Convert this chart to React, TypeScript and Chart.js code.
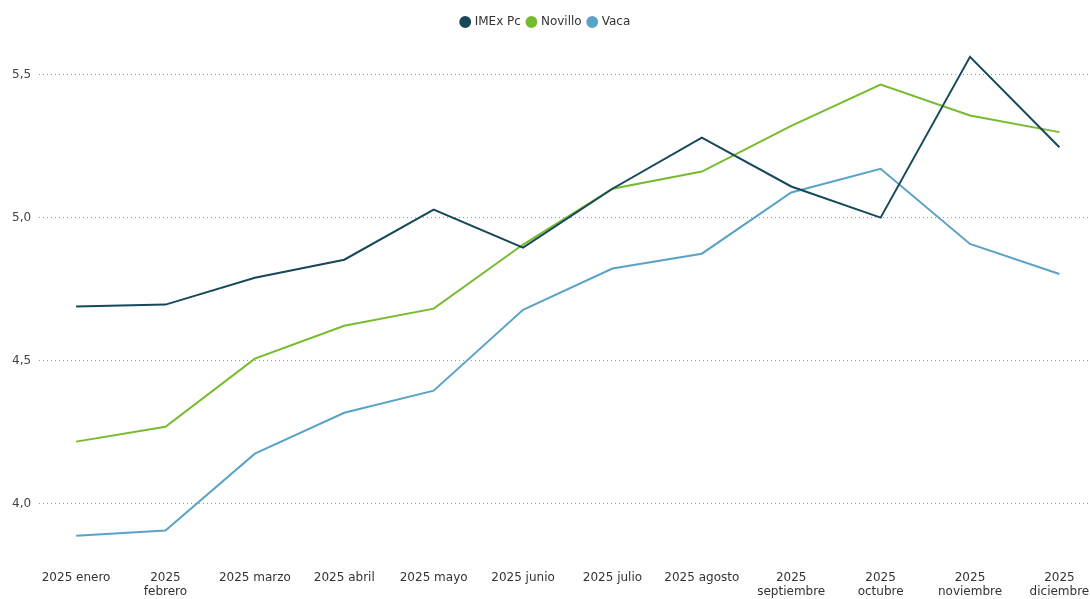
import React, { useEffect, useRef } from "react";
import { Chart, registerables } from "chart.js";

Chart.register(...registerables);

const categories = [
  "2025 enero",
  "2025 febrero",
  "2025 marzo",
  "2025 abril",
  "2025 mayo",
  "2025 junio",
  "2025 julio",
  "2025 agosto",
  "2025 septiembre",
  "2025 octubre",
  "2025 noviembre",
  "2025 diciembre",
];

const imexPc = [4.689, 4.696, 4.79, 4.853, 5.028, 4.895, 5.101, 5.28, 5.109, 5.0, 5.562, 5.246];
const novillo = [4.217, 4.269, 4.507, 4.622, 4.682, 4.906, 5.101, 5.161, 5.321, 5.465, 5.357, 5.299];
const vaca = [3.888, 3.906, 4.175, 4.318, 4.395, 4.678, 4.822, 4.874, 5.088, 5.171, 4.908, 4.803];

const yTicks = [4.0, 4.5, 5.0, 5.5];

const FONT = "'DejaVu Sans', Verdana, sans-serif";

export default function App() {
  const ref = useRef<HTMLCanvasElement | null>(null);

  useEffect(() => {
    document.body.style.margin = "0";
    const canvas = ref.current;
    if (!canvas) return;
    const toPts = (arr: number[]) => arr.map((v, i) => ({ x: i, y: v }));
    const chart = new Chart(canvas, {
      type: "line",
      data: {
        datasets: [
          { label: "IMEx Pc", data: toPts(imexPc), borderColor: "#17485a", backgroundColor: "#17485a" },
          { label: "Novillo", data: toPts(novillo), borderColor: "#77bb2e", backgroundColor: "#77bb2e" },
          { label: "Vaca", data: toPts(vaca), borderColor: "#5aa3c6", backgroundColor: "#5aa3c6" },
        ].map((d) => ({ ...d, borderWidth: 2, pointRadius: 0, tension: 0, fill: false })),
      },
      options: {
        animation: false,
        responsive: true,
        maintainAspectRatio: false,
        layout: { padding: { left: 4, right: 2, top: 9, bottom: 0 } },
        plugins: {
          tooltip: { enabled: false },
          legend: {
            position: "top",
            align: "center",
            labels: {
              usePointStyle: true,
              pointStyle: "circle",
              boxWidth: 7,
              boxHeight: 7,
              padding: 7,
              color: "#333",
              font: { family: FONT, size: 12 },
            },
          },
        },
        scales: {
          x: {
            type: "linear",
            min: -0.414,
            max: 11.32,
            border: { display: false },
            grid: { display: false, drawTicks: false },
            afterBuildTicks: (scale: any) => {
              scale.ticks = categories.map((_, i) => ({ value: i }));
            },
            afterFit: (scale: any) => {
              scale.paddingLeft = 0;
              scale.paddingRight = 0;
            },
            ticks: {
              autoSkip: false,
              maxRotation: 0,
              minRotation: 0,
              padding: 0,
              color: "#333",
              font: { family: FONT, size: 12, lineHeight: 1.17 },
              callback: (v: any) => {
                const s = categories[Math.round(Number(v))];
                if (!s) return "";
                return s.length >= 12 ? s.split(" ") : s;
              },
            },
          },
          y: {
            type: "linear",
            min: 3.765,
            max: 5.628,
            border: { display: false, dash: [1, 3] },
            grid: { color: "#999999", lineWidth: 1, drawTicks: false },
            afterBuildTicks: (scale: any) => {
              scale.ticks = yTicks.map((v) => ({ value: v }));
            },
            ticks: {
              padding: 8,
              color: "#444",
              font: { family: FONT, size: 12 },
              callback: (v: any) => Number(v).toFixed(1).replace(".", ","),
            },
          },
        },
      } as any,
    });
    return () => chart.destroy();
  }, []);

  return (
    <div style={{ position: "fixed", left: 0, top: 0, width: 1090, height: 599 }}>
      <canvas ref={ref} />
    </div>
  );
}
